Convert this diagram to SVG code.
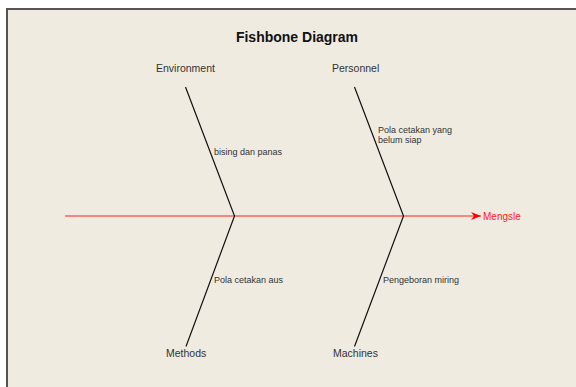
<svg xmlns="http://www.w3.org/2000/svg" width="576" height="387" viewBox="0 0 576 387">
<style>
.lbl{font-family:"Liberation Sans",Arial,sans-serif;font-size:10.5px;fill:#333}
.sm{font-family:"Liberation Sans",Arial,sans-serif;font-size:9px;fill:#333}
.bone{stroke:#111;stroke-width:1.2;fill:none}
</style>
<defs>
<marker id="arr" markerUnits="userSpaceOnUse" markerWidth="12" markerHeight="10" refX="10" refY="4" orient="auto">
<path d="M0,0 L10,4 L0,8 L3,4 z" fill="#ff0000"/>
</marker>
</defs>
<rect x="0" y="0" width="576" height="387" fill="#ffffff"/>
<rect x="7" y="9" width="580" height="390" fill="#efebe1" stroke="#555" stroke-width="2"/>
<text x="297" y="42" text-anchor="middle" font-family="Liberation Sans,Arial,sans-serif" font-weight="bold" font-size="14" fill="#111">Fishbone Diagram</text>
<g id="connectors">
<line x1="65" y1="216" x2="481" y2="216" stroke="#ff2020" stroke-width="1.2" marker-end="url(#arr)"/>
<polyline class="bone" points="185.5,87 234.5,216 186,346.5"/>
<polyline class="bone" points="354.5,87 403.5,216 354.5,346.5"/>
</g>
<g id="effect"><text x="483" y="220" font-family="Liberation Sans,Arial,sans-serif" font-size="10" fill="#ff2020">Mengsle</text></g>
<g id="environment"><text class="lbl" x="156" y="72">Environment</text><text class="sm" x="214" y="155">bising dan panas</text></g>
<g id="personnel"><text class="lbl" x="332" y="72">Personnel</text><text class="sm" x="378" y="133">Pola cetakan yang</text><text class="sm" x="378" y="143">belum siap</text></g>
<g id="methods"><text class="lbl" x="166" y="357">Methods</text><text class="sm" x="214" y="283">Pola cetakan aus</text></g>
<g id="machines"><text class="lbl" x="333" y="357">Machines</text><text class="sm" x="383" y="283">Pengeboran miring</text></g>
</svg>
